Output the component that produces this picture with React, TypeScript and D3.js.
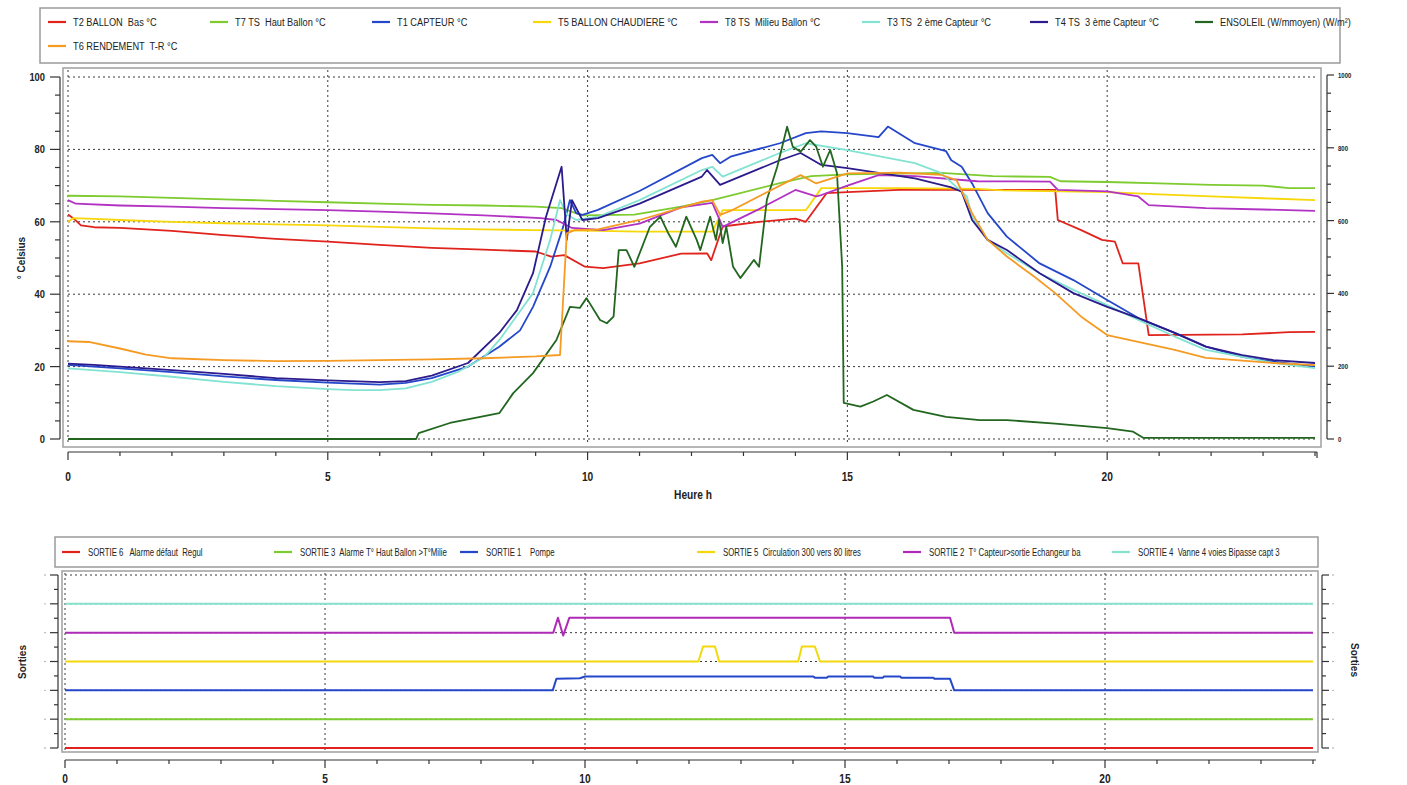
import React from 'react';
import * as d3 from 'd3';

type P = [number, number];

// ---------- DATA ----------
const hourTicks = [0, 5, 10, 15, 20];
const celsiusTicks = [0, 20, 40, 60, 80, 100];
const solarTicks = [0, 200, 400, 600, 800, 1000];
const sortieLevels = [0, 1, 2, 3, 4, 5, 6];

const t2BallonBas: P[] = [[0,62],[0.1,61],[0.25,59],[0.5,58.5],[1,58.3],[2,57.5],[3,56.3],[4,55.3],[5,54.5],[6,53.6],[7,52.8],[8,52.3],[9,51.8],[9.3,50.4],[9.55,50.8],[9.95,47.6],[10.3,47.2],[11,48.5],[11.8,51.2],[12.3,51.3],[12.38,49.4],[12.6,58.7],[13.3,60],[14.0,60.9],[14.2,60],[14.6,67.9],[15,68.2],[16,68.8],[17,68.8],[19.0,68.8],[19.05,60.5],[19.5,57.7],[19.9,55],[20.15,54.5],[20.3,48.5],[20.6,48.5],[20.8,28.7],[22.6,28.9],[23.5,29.5],[24,29.6]];
const t7HautBallon: P[] = [[0,67.2],[1,67],[2,66.6],[3,66.2],[4,65.8],[5,65.4],[6,65],[7,64.7],[8,64.5],[9,64.2],[9.5,63.8],[9.9,61.8],[10.9,62],[11.8,64.2],[12.4,66],[13.7,70.7],[14.3,72.6],[15,73.1],[16,73.3],[16.8,73.5],[17.8,72.6],[18.9,72.4],[19.1,71.2],[20,71],[21,70.6],[22,70.2],[23,70],[23.5,69.3],[24,69.3]];
const t1Capteur: P[] = [[0,20.5],[0.5,20],[1,19.5],[2,18.5],[3,17.3],[4,16.3],[5,15.6],[6,15],[6.5,15.5],[7,16.8],[7.7,20],[8.3,25.5],[8.7,30],[8.95,36.5],[9.28,47.6],[9.53,58.6],[9.66,66],[9.78,62.4],[9.9,61.9],[10.2,63.3],[11,68.5],[12.2,77.6],[12.4,78.5],[12.55,76.2],[12.75,78],[13.7,81.7],[14.2,84.5],[14.5,85],[15.0,84.5],[15.6,83.4],[15.78,86.3],[16.3,81.7],[16.9,79.5],[17.0,77],[17.2,75.2],[17.4,70.6],[17.7,62.4],[18.07,55.9],[18.7,48.5],[19.35,43.9],[20,38.4],[20.6,33.4],[21.3,29.3],[21.9,25.5],[22.6,22.7],[23.2,21.4],[24,20]];
const t5BallonChaudiere: P[] = [[0,60],[0.1,61],[0.5,60.8],[1,60.5],[2,60],[3,59.6],[4,59.3],[5,59],[6,58.6],[7,58.2],[8,57.9],[9,57.7],[10.2,57.5],[11,57.3],[12.4,57.3],[12.6,63.2],[14.2,63.2],[14.5,69.3],[16,69.3],[17.5,69.1],[18,68.7],[20,68.2],[21,67.6],[22,67],[23,66.5],[24,66]];
const t8MilieuBallon: P[] = [[0,66],[0.15,65],[1,64.5],[2,64.2],[3,63.8],[4,63.5],[5,63.2],[6,62.8],[7,62.3],[8,61.8],[9.1,61],[9.4,60.5],[9.7,58.3],[10.3,57.7],[11,59.5],[11.8,64],[12.4,65.2],[12.6,58.6],[13.3,63.5],[14.0,68.8],[14.4,67],[14.5,67.4],[15,70],[15.6,72.9],[16.3,72.6],[17.5,71.2],[18.9,71.1],[19.05,68.8],[20,68.4],[20.6,67],[20.8,64.6],[21.9,63.8],[23,63.4],[24,63]];
const t3Capteur2: P[] = [[0,19.5],[1,18.5],[2,17.2],[3,15.8],[4,14.6],[5,13.8],[5.5,13.5],[6,13.5],[6.5,14],[7,15.8],[7.5,18.5],[8,22.5],[8.3,27.3],[8.95,40.3],[9.28,55],[9.47,66],[9.6,62],[9.78,60.5],[10.2,61.4],[11,66],[12.2,74.3],[12.4,75.2],[12.6,72.5],[13.7,79],[14.2,81.7],[15,79.8],[16.3,76.2],[16.8,73.5],[17.3,67],[17.4,61.4],[17.7,55],[18.07,51.3],[18.7,45.8],[19.35,41.2],[20,37],[20.6,32.9],[21.3,28.3],[21.9,24.6],[23.2,21],[24,19.6]];
const t4Capteur3: P[] = [[0,20.8],[0.5,20.5],[1,20],[2,19],[3,18],[4,16.8],[5,16.2],[6,15.7],[6.5,16],[7,17.5],[7.7,21],[8.3,29.3],[8.64,35.6],[8.95,45.8],[9.2,61.4],[9.5,75.2],[9.6,55],[9.7,66],[9.9,60.5],[10.2,61],[11,65],[12.2,72.5],[12.3,74.3],[12.55,70.2],[13.7,77],[14.1,79],[14.5,75.7],[15,74.8],[16.3,72],[17,69.5],[17.2,68.3],[17.4,60.5],[17.7,55],[18.07,52.2],[18.7,45.8],[19.35,40.3],[20,36.5],[20.6,33.4],[21.3,29.3],[21.9,25.5],[22.6,23.2],[23.2,21.8],[24,21]];
const t6Rendement: P[] = [[0,27],[0.4,26.8],[1,25],[1.5,23.3],[2,22.3],[3,21.8],[4,21.5],[5,21.6],[6,21.8],[7,22],[8,22.3],[9,22.8],[9.47,23.2],[9.6,56.8],[9.75,57.7],[10.2,57.9],[11,60.5],[12.2,65.6],[12.4,66],[12.55,61.9],[12.75,63],[14.1,72.9],[14.4,70.6],[15,73.4],[16,73.6],[16.8,73],[17.1,71.5],[17.4,62.4],[17.7,55],[18.07,50.4],[18.6,44.8],[19,40.3],[19.5,33.8],[20,28.7],[21.3,24.6],[21.9,22.4],[23.2,21],[24,20.4]];
const ensoleil: P[] = [[0,0],[6.7,0],[6.75,16],[7.35,44],[8.3,71],[8.57,126],[8.95,181],[9.4,272],[9.66,363],[9.85,360],[9.98,387],[10.24,327],[10.37,318],[10.5,336],[10.6,519],[10.75,519],[10.9,473],[11.2,583],[11.4,611],[11.55,566],[11.7,528],[11.9,611],[12.1,547],[12.17,519],[12.36,611],[12.47,547],[12.53,602],[12.6,538],[12.67,583],[12.8,473],[12.94,442],[13.2,492],[13.3,473],[13.45,657],[13.65,748],[13.84,858],[13.95,803],[14.1,789],[14.28,821],[14.4,803],[14.53,748],[14.67,794],[14.8,730],[14.9,473],[14.93,99],[15.25,89],[15.5,103],[15.76,121],[16.27,80],[16.9,61],[17.55,52],[18.07,52],[19,42],[20,30],[20.5,20],[20.7,3],[24,3]];

// digital outputs: value = level offset above the series' base level
const sortie6: P[] = [[0,0],[24,0]];
const sortie3: P[] = [[0,0],[24,0]];
const sortie1: P[] = [[0,0],[9.38,0],[9.45,0.4],[9.9,0.42],[10.0,0.48],[14.39,0.48],[14.42,0.44],[14.65,0.44],[14.68,0.48],[15.54,0.48],[15.56,0.44],[15.73,0.44],[15.75,0.48],[16.06,0.48],[16.08,0.44],[16.7,0.44],[16.72,0.4],[17.02,0.4],[17.1,0],[24,0]];
const sortie5: P[] = [[0,0],[12.18,0],[12.27,0.52],[12.5,0.52],[12.58,0],[14.1,0],[14.17,0.52],[14.42,0.52],[14.52,0],[24,0]];
const sortie2: P[] = [[0,0],[9.39,0],[9.48,0.52],[9.58,-0.1],[9.7,0.52],[17.02,0.52],[17.1,0],[24,0]];
const sortie4: P[] = [[0,0],[24,0]];

// ---------- SERIES DEFINITIONS ----------
const topSeries = [
  { name: 'T2 BALLON  Bas °C', color: '#e0231c', data: t2BallonBas, axis: 'L' },
  { name: 'T7 TS  Haut Ballon °C', color: '#7dcb2e', data: t7HautBallon, axis: 'L' },
  { name: 'T1 CAPTEUR °C', color: '#2547c9', data: t1Capteur, axis: 'L' },
  { name: 'T5 BALLON CHAUDIERE °C', color: '#f7d70a', data: t5BallonChaudiere, axis: 'L' },
  { name: 'T8 TS  Milieu Ballon °C', color: '#b232c4', data: t8MilieuBallon, axis: 'L' },
  { name: 'T3 TS  2 ème Capteur °C', color: '#82e3d2', data: t3Capteur2, axis: 'L' },
  { name: 'T4 TS  3 ème Capteur °C', color: '#2c1b8c', data: t4Capteur3, axis: 'L' },
  { name: 'ENSOLEIL (W/mmoyen) (W/m²)', color: '#22661f', data: ensoleil, axis: 'R' },
  { name: 'T6 RENDEMENT  T-R °C', color: '#f59b23', data: t6Rendement, axis: 'L' },
];

const bottomSeries = [
  { name: 'SORTIE 6   Alarme défaut  Regul', color: '#e0231c', data: sortie6, level: 0 },
  { name: 'SORTIE 3  Alarme T° Haut Ballon >T°Milie', color: '#7dcb2e', data: sortie3, level: 1 },
  { name: 'SORTIE 1    Pompe', color: '#2547c9', data: sortie1, level: 2 },
  { name: 'SORTIE 5  Circulation 300 vers 80 litres', color: '#f2d80c', data: sortie5, level: 3 },
  { name: 'SORTIE 2  T° Capteur>sortie Echangeur ba', color: '#b02ab8', data: sortie2, level: 4 },
  { name: 'SORTIE 4  Vanne 4 voies Bipasse capt 3', color: '#86e2cc', data: sortie4, level: 5 },
];

// ---------- LAYOUT ----------
const W = 1407, H = 785;
const FONT = "'Liberation Sans', Arial, sans-serif";

const topLegendX = [48, 210, 372, 533, 700, 862, 1030, 1195, 48];
const topLegendY = [22, 22, 22, 22, 22, 22, 22, 22, 46];
const botLegendX = [62, 274, 460, 697, 903, 1112];

function NText(props: { x: number; y: number; sx: number; size: number; bold?: boolean; anchor?: string; children: React.ReactNode }) {
  const { x, y, sx, size, bold, anchor, children } = props;
  return (
    <text transform={`translate(${x},${y}) scale(${sx},1)`} fontSize={size} fontWeight={bold ? 'bold' : 'normal'}
      textAnchor={anchor || 'start'} fill="#222" style={{ whiteSpace: 'pre' }}>{children}</text>
  );
}

export default function App() {
  const xT = d3.scaleLinear().domain([0, 24]).range([68, 1315]);
  const yL = d3.scaleLinear().domain([0, 100]).range([439, 77]);
  const yR = d3.scaleLinear().domain([0, 1000]).range([439, 75]);
  const xB = d3.scaleLinear().domain([0, 24]).range([65, 1313]);
  const yB = d3.scaleLinear().domain([0, 6]).range([748, 575]);

  const minorC = d3.range(0, 101, 5);
  const minorS = d3.range(0, 1001, 50);
  const hoursAll = d3.range(0, 25, 1);
  const halfLevels = d3.range(0, 6.01, 0.5);

  const grid = '#3a3a3a';
  const dash = '2,3';

  return (
    <svg width={W} height={H} style={{ position: 'absolute', left: 0, top: 0, background: '#fff' }} fontFamily={FONT}>
      <rect x={0} y={0} width={W} height={H} fill="#ffffff" />
      {/* ===== TOP CHART ===== */}
      <rect x={40} y={8} width={1300} height={55} fill="none" stroke="#9a9a9a" strokeWidth={1.5} />
      {topSeries.map((s, i) => (
        <g key={s.name}>
          <line x1={topLegendX[i]} x2={topLegendX[i] + 18} y1={topLegendY[i]} y2={topLegendY[i]} stroke={s.color} strokeWidth={2.2} />
          <NText x={topLegendX[i] + 25} y={topLegendY[i] + 4} sx={0.84} size={11}>{s.name}</NText>
        </g>
      ))}
      <rect x={63} y={68} width={1258} height={379} fill="none" stroke="#a5a5a5" strokeWidth={1.6} />

      {/* grid */}
      {celsiusTicks.map(t => (
        <line key={'gh' + t} x1={xT(0)} x2={xT(24)} y1={yL(t)} y2={yL(t)} stroke={grid} strokeDasharray={dash} strokeWidth={1} />
      ))}
      {hourTicks.map(t => (
        <line key={'gv' + t} x1={xT(t)} x2={xT(t)} y1={70} y2={445} stroke={grid} strokeDasharray={dash} strokeWidth={1} />
      ))}

      {/* left axis */}
      <line x1={60} x2={60} y1={yL(0)} y2={yL(100)} stroke="#333" strokeWidth={1.2} />
      {minorC.map(t => (
        <line key={'lt' + t} x1={t % 20 === 0 ? 50 : 55} x2={60} y1={yL(t)} y2={yL(t)} stroke="#333" strokeWidth={1.2} />
      ))}
      {celsiusTicks.map(t => (
        <NText key={'ll' + t} x={45} y={yL(t) + 4} sx={0.85} size={11} bold anchor="end">{t}</NText>
      ))}
      <text transform={`translate(25,258) rotate(-90)`} fontSize={10} fontWeight="bold" textAnchor="middle" fill="#222">° Celsius</text>

      {/* right axis */}
      <line x1={1327} x2={1327} y1={yR(0)} y2={yR(1000)} stroke="#333" strokeWidth={1.2} />
      {minorS.map(t => (
        <line key={'rt' + t} x1={1327} x2={t % 200 === 0 ? 1334 : 1331} y1={yR(t)} y2={yR(t)} stroke="#333" strokeWidth={1.2} />
      ))}
      {solarTicks.map(t => (
        <NText key={'rl' + t} x={1338} y={yR(t) + 3} sx={0.8} size={7.5} bold>{t}</NText>
      ))}

      {/* bottom axis */}
      <line x1={xT(0)} x2={xT(24) + 2} y1={452} y2={452} stroke="#333" strokeWidth={1.2} />
      {hoursAll.map(t => (
        <line key={'bt' + t} x1={xT(t)} x2={xT(t)} y1={452} y2={t % 5 === 0 ? 460 : 456} stroke="#333" strokeWidth={1.2} />
      ))}
      <line x1={xT(24) + 2} x2={xT(24) + 2} y1={452} y2={458} stroke="#333" strokeWidth={1.2} />
      {hourTicks.map(t => (
        <NText key={'bl' + t} x={xT(t)} y={481} sx={0.85} size={12} bold anchor="middle">{t}</NText>
      ))}
      <NText x={693} y={499} sx={0.85} size={12} bold anchor="middle">Heure h</NText>

      {/* lines */}
      {topSeries.map(s => {
        const yy = s.axis === 'R' ? yR : yL;
        const gen = d3.line<P>().x(d => xT(d[0])).y(d => yy(d[1]));
        return <path key={'p' + s.name} d={gen(s.data) || ''} fill="none" stroke={s.color} strokeWidth={1.8} strokeLinejoin="round" />;
      })}

      {/* ===== BOTTOM CHART ===== */}
      <rect x={55} y={537} width={1263} height={30} fill="none" stroke="#9a9a9a" strokeWidth={1.5} />
      {bottomSeries.map((s, i) => (
        <g key={s.name}>
          <line x1={botLegendX[i]} x2={botLegendX[i] + 18} y1={552} y2={552} stroke={s.color} strokeWidth={2.2} />
          <NText x={botLegendX[i] + 26} y={556} sx={0.78} size={10}>{s.name}</NText>
        </g>
      ))}
      <rect x={62} y={571} width={1256} height={181} fill="none" stroke="#a5a5a5" strokeWidth={1.6} />

      {sortieLevels.map(l => (
        <line key={'bgh' + l} x1={xB(0)} x2={xB(24)} y1={yB(l)} y2={yB(l)} stroke={grid} strokeDasharray={dash} strokeWidth={1} />
      ))}
      {hourTicks.map(t => (
        <line key={'bgv' + t} x1={xB(t)} x2={xB(t)} y1={573} y2={751} stroke={grid} strokeDasharray={dash} strokeWidth={1} />
      ))}

      {/* left axis bottom */}
      <line x1={58} x2={58} y1={yB(0)} y2={yB(6)} stroke="#333" strokeWidth={1.2} />
      {halfLevels.map(l => (
        <line key={'blt' + l} x1={Number.isInteger(l) ? 50 : 54} x2={58} y1={yB(l)} y2={yB(l)} stroke="#333" strokeWidth={1.2} />
      ))}
      {sortieLevels.map(l => (
        <circle key={'bld' + l} cx={45} cy={yB(l)} r={0.7} fill="#888" />
      ))}
      <text transform={`translate(26,662) rotate(-90)`} fontSize={10} fontWeight="bold" textAnchor="middle" fill="#222">Sorties</text>

      {/* right axis bottom */}
      <line x1={1322} x2={1322} y1={yB(0)} y2={yB(6)} stroke="#333" strokeWidth={1.2} />
      {halfLevels.map(l => (
        <line key={'brt' + l} x1={1322} x2={Number.isInteger(l) ? 1329 : 1326} y1={yB(l)} y2={yB(l)} stroke="#333" strokeWidth={1.2} />
      ))}
      {sortieLevels.map(l => (
        <circle key={'brd' + l} cx={1333} cy={yB(l)} r={0.7} fill="#888" />
      ))}
      <text transform={`translate(1351,660) rotate(90)`} fontSize={10} fontWeight="bold" textAnchor="middle" fill="#222">Sorties</text>

      {/* bottom x axis */}
      <line x1={xB(0)} x2={xB(24) + 3} y1={760} y2={760} stroke="#333" strokeWidth={1.2} />
      {hoursAll.map(t => (
        <line key={'bbt' + t} x1={xB(t)} x2={xB(t)} y1={760} y2={t % 5 === 0 ? 768 : 764} stroke="#333" strokeWidth={1.2} />
      ))}
      {hourTicks.map(t => (
        <NText key={'bbl' + t} x={xB(t)} y={783} sx={0.85} size={12} bold anchor="middle">{t}</NText>
      ))}

      {bottomSeries.map(s => {
        const gen = d3.line<P>().x(d => xB(d[0])).y(d => yB(s.level + d[1]));
        return <path key={'bp' + s.name} d={gen(s.data) || ''} fill="none" stroke={s.color} strokeWidth={2} strokeLinejoin="round" />;
      })}
    </svg>
  );
}
